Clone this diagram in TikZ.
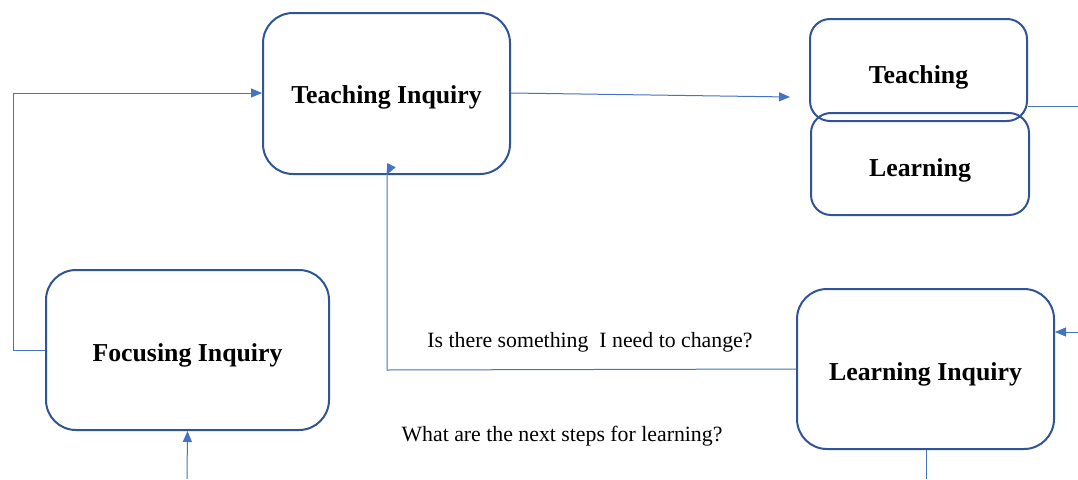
\documentclass[tikz,border=0pt]{standalone}
\usepackage{fontspec}
\setmainfont{Liberation Serif}
\usetikzlibrary{arrows.meta}
\definecolor{boxblue}{HTML}{2F5597}
\definecolor{linkblue}{HTML}{4472C4}
\newcommand\lowered[2]{\raisebox{-#1}[\height][\depth]{#2}}
\begin{document}
\begin{tikzpicture}[x=1pt,y=-1pt,
  stagebox/.style={draw=boxblue,line width=2pt,rounded corners=30pt,inner sep=0pt,
    font=\fontsize{25.8}{30}\selectfont\bfseries,align=center},
  smallbox/.style={stagebox,rounded corners=20pt},
  link/.style={draw=linkblue,line width=1pt},
  arr/.style={link,-{Triangle[length=11pt,width=9pt]}},
  qtext/.style={font=\fontsize{21.8}{25}\selectfont,inner sep=0pt}]
\useasboundingbox (0,0) rectangle (1078,479);
\node[stagebox,minimum width=247pt,minimum height=161pt] (ti) at (386.5,93.5) {\lowered{4pt}{Teaching Inquiry}};
\node[smallbox,minimum width=217pt,minimum height=102pt] (te) at (918.5,70) {\lowered{7pt}{Teaching}};
\node[smallbox,minimum width=218pt,minimum height=102pt] (le) at (920,164) {\lowered{6pt}{Learning}};
\node[stagebox,minimum width=283pt,minimum height=160pt] (fi) at (187.5,350) {\lowered{5pt}{Focusing Inquiry}};
\node[stagebox,minimum width=257pt,minimum height=160pt] (li) at (925.5,369) {\lowered{5pt}{Learning Inquiry}};
\node[qtext] (q1) at (590,342.5) {Is there something \ I need to change?};
\node[qtext] (q2) at (562,436) {What are the next steps for learning?};
\coordinate (e1) at (790,97);
\coordinate (e2) at (1078,106);
\coordinate (e3) at (1078,332);
\coordinate (e4) at (926,479);
\coordinate (e5) at (187,479);
\draw[arr] (fi.west) -- (13,350) -- (13,93) -- (ti.west |- 0,93);
\draw[arr] (ti.east |- 0,93) -- (e1);
\draw[link] (te.east |- e2) -- (e2);
\draw[arr] (e3) -- (li.east |- e3);
\draw[arr] (li.west) -- (387,370) -- (387,174) -- (ti.south);
\draw[link] (li.south -| e4) -- (e4);
\draw[arr] (e5) -- (fi.south);
\end{tikzpicture}
\end{document}
